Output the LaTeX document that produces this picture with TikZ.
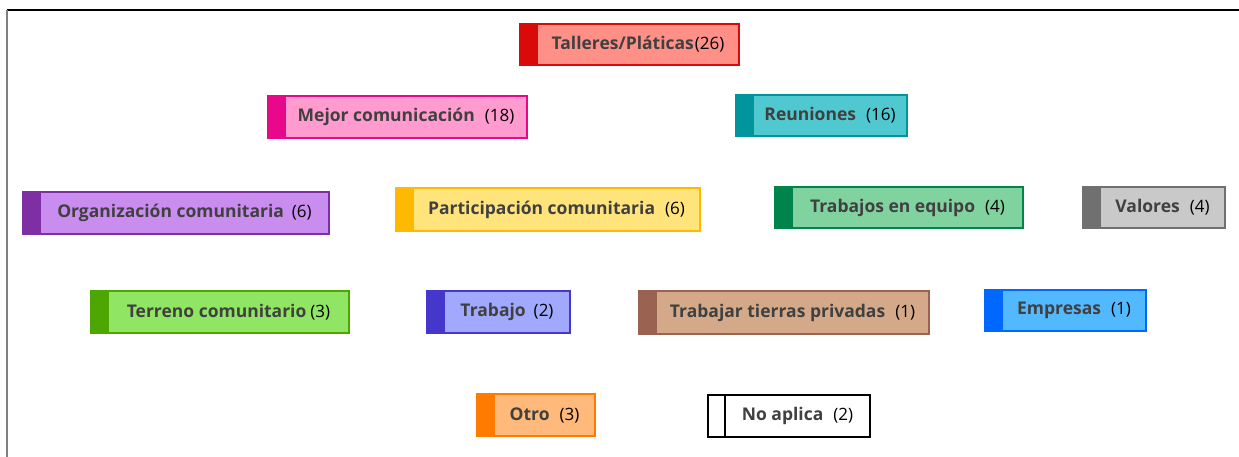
\documentclass[tikz,border=0pt]{standalone}
\usepackage{fontspec}
\setmainfont{Open Sans}
\usepackage{xcolor}
\usetikzlibrary{positioning}
\definecolor{labelgray}{HTML}{404040}
\definecolor{tallerdark}{HTML}{DA0A0A}
\definecolor{tallerfill}{HTML}{FF9088}
\definecolor{mejordark}{HTML}{E8088A}
\definecolor{mejorfill}{HTML}{FF9BCE}
\definecolor{reuniondark}{HTML}{00959C}
\definecolor{reunionfill}{HTML}{50C8D0}
\definecolor{orgdark}{HTML}{7E2FA3}
\definecolor{orgfill}{HTML}{C98CEF}
\definecolor{partdark}{HTML}{FFB900}
\definecolor{partfill}{HTML}{FFE47C}
\definecolor{equipodark}{HTML}{00844C}
\definecolor{equipofill}{HTML}{80D29E}
\definecolor{valordark}{HTML}{707070}
\definecolor{valorfill}{HTML}{C9C9C9}
\definecolor{terrenodark}{HTML}{4EA600}
\definecolor{terrenofill}{HTML}{90E662}
\definecolor{trabajodark}{HTML}{4536CC}
\definecolor{trabajofill}{HTML}{A1A9FF}
\definecolor{tierradark}{HTML}{9A6250}
\definecolor{tierrafill}{HTML}{D4A98A}
\definecolor{empresadark}{HTML}{0068FF}
\definecolor{empresafill}{HTML}{52B9FF}
\definecolor{otrodark}{HTML}{FF7B00}
\definecolor{otrofill}{HTML}{FFB97A}
\newcommand{\catlabel}[3][10pt]{\hspace*{17pt}\raisebox{-2pt}{{\bfseries\color{labelgray}#2}\hspace{#1}{\fontsize{17}{20}\selectfont(#3)}}}

\begin{document}
\begin{tikzpicture}[
    x=1pt, y=-1pt,
    catbox/.style n args={3}{draw=#1, fill=#3, line width=1.5pt, minimum height=42, inner sep=0pt,
      font=\fontsize{17.5}{20}\selectfont,
      path picture={\fill[#2] (path picture bounding box.south west) rectangle ([xshift=17]path picture bounding box.north west);
        \draw[#1, line width=1.5pt] ([xshift=17]path picture bounding box.south west) -- ([xshift=17]path picture bounding box.north west);}}
  ]
    \useasboundingbox (0,0) rectangle (1239,457);
    \draw[line width=1.5pt, black] (7,10) -- (1239,10);
    \draw[line width=2pt, gray] (7,10) -- (7,457);
    % row 1
    \node[catbox={tallerdark}{tallerdark}{tallerfill}, minimum width=219, minimum height=41] (talleres) at (629.5,44.5) {\catlabel[1pt]{Talleres/Pláticas}{26}};
    % row 2
    \node[catbox={mejordark}{mejordark}{mejorfill}, minimum width=259] (mejor) at (397.5,117) {\catlabel{Mejor comunicación}{18}};
    \node[catbox={reuniondark}{reuniondark}{reunionfill}, minimum width=171, minimum height=41] (reuniones) at (821.5,115.5) {\catlabel{Reuniones}{16}};
    % row 3
    \node[catbox={orgdark}{orgdark}{orgfill}, minimum width=306] (organizacion) at (176,213) {\catlabel[8pt]{Organización comunitaria}{6}};
    \node[catbox={partdark}{partdark}{partfill}, minimum width=304, minimum height=43] (participacion) at (548,209.5) {\catlabel{Participación comunitaria}{6}};
    \node[catbox={equipodark}{equipodark}{equipofill}, minimum width=248, minimum height=41] (equipo) at (899,207.5) {\catlabel{Trabajos en equipo}{4}};
    \node[catbox={valordark}{valordark}{valorfill}, minimum width=142, minimum height=41] (valores) at (1154,207.5) {\catlabel{Valores}{4}};
    % row 4
    \node[catbox={terrenodark}{terrenodark}{terrenofill}, minimum width=258] (terreno) at (220,312) {\catlabel[4pt]{Terreno comunitario}{3}};
    \node[catbox={trabajodark}{trabajodark}{trabajofill}, minimum width=143] (trabajo) at (498.5,312) {\catlabel[8pt]{Trabajo}{2}};
    \node[catbox={tierradark}{tierradark}{tierrafill}, minimum width=290, minimum height=43] (tierras) at (784,312.5) {\catlabel{Trabajar tierras privadas}{1}};
    \node[catbox={empresadark}{empresadark}{empresafill}, minimum width=161, minimum height=41] (empresas) at (1065.5,310.5) {\catlabel{Empresas}{1}};
    % row 5
    \node[catbox={otrodark}{otrodark}{otrofill}, minimum width=118] (otro) at (536,415) {\catlabel{Otro}{3}};
    \node[catbox={black}{white}{white}, minimum width=162] (noaplica) at (789,416) {\catlabel{No aplica}{2}};
  \end{tikzpicture}
\end{document}
